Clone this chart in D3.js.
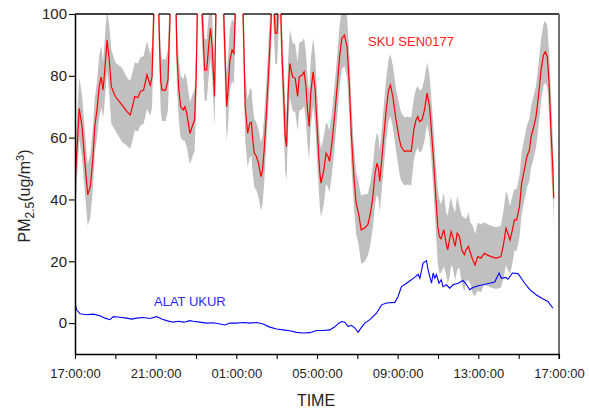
<!DOCTYPE html>
<html>
<head>
<meta charset="utf-8">
<script src="https://cdn.jsdelivr.net/npm/d3@7"></script>
<style>
  body { margin: 0; background: #fff; }
  svg { display: block; font-family: "Liberation Sans", Arial, sans-serif; }
</style>
</head>
<body>
<svg id="chart" width="589" height="409"></svg>
<script>
// Sensor (SKU SEN0177) PM2.5 readings: hours since 17:00, value, and uncertainty spread
const sensorHours = [
  0, 0.21, 0.35, 0.48, 0.63, 0.76, 0.88, 0.98, 1.09, 1.20, 1.30, 1.39, 1.45, 1.59, 1.70, 1.80,
  2.00, 2.33, 2.58, 2.74, 2.87, 2.96, 3.12, 3.24, 3.40, 3.57, 3.73, 3.82, 3.90, 3.96, 4.11, 4.20,
  4.25, 4.31, 4.49, 4.61, 4.71, 4.78, 4.96, 5.02, 5.05, 5.15, 5.24, 5.37, 5.45, 5.54, 5.70, 5.81,
  5.93, 6.01, 6.06, 6.12, 6.24, 6.31, 6.43, 6.53, 6.64, 6.72, 6.80, 6.92, 6.98, 7.06, 7.31, 7.38,
  7.52, 7.58, 7.68, 7.79, 7.88, 7.94, 8.00, 8.27, 8.34, 8.44, 8.56, 8.67, 8.75, 8.80, 8.89, 9.00,
  9.10, 9.22, 9.30, 9.38, 9.50, 9.63, 9.73, 9.79, 9.88, 9.93, 10.02, 10.07, 10.16, 10.21, 10.26, 10.37,
  10.42, 10.49, 10.57, 10.65, 10.79, 10.92, 11.04, 11.12, 11.28, 11.36, 11.45, 11.53, 11.61, 11.69, 11.81, 11.91,
  12.03, 12.14, 12.20, 12.34, 12.45, 12.54, 12.62, 12.74, 12.87, 13.00, 13.12, 13.23, 13.36, 13.49, 13.61, 13.69,
  13.83, 13.94, 14.06, 14.19, 14.35, 14.52, 14.65, 14.77, 14.88, 14.97, 15.05, 15.11, 15.21, 15.31, 15.43, 15.55,
  15.64, 15.76, 15.92, 16.09, 16.17, 16.34, 16.50, 16.67, 16.80, 16.91, 17.00, 17.08, 17.20, 17.33, 17.46, 17.58,
  17.66, 17.79, 17.90, 17.99, 18.07, 18.15, 18.29, 18.40, 18.48, 18.57, 18.65, 18.73, 18.85, 18.95, 19.06, 19.18,
  19.31, 19.39, 19.51, 19.61, 19.72, 19.84, 19.97, 20.13, 20.30, 20.46, 20.63, 20.88, 21.12, 21.26, 21.37, 21.46,
  21.57, 21.67, 21.79, 21.90, 22.04, 22.15, 22.28, 22.41, 22.53, 22.62, 22.75, 22.86, 22.94, 23.03, 23.11, 23.23,
  23.32, 23.42, 23.51, 23.60, 23.69, 23.74
];
const sensorPM = [
  44.7, 69.5, 63.6, 52.8, 41.5, 44.2, 52.8, 63.6, 69, 76.5, 79.7, 75.4, 79.7, 91.6, 85.1, 76.5,
  73.3, 70.6, 68.4, 67.3, 70.6, 73.3, 73, 74.9, 75.4, 80.3, 77, 79.7, 99, 112, 112, 88.4,
  78.7, 75.4, 75.4, 78.7, 99.7, 112, 112, 99, 87.3, 75.4, 70, 69, 70, 67.9, 61.4, 63.6,
  65.7, 79.7, 99, 112, 112, 99, 81.9, 81.9, 90.5, 95.4, 89.4, 73.3, 99, 112, 112, 99,
  70, 74.4, 85.1, 88.4, 87.3, 99, 112, 112, 99, 70, 61.4, 64.7, 65, 60.3, 55, 53.9,
  51.7, 47.4, 49.6, 56, 69, 85.1, 99, 112, 101, 93.8, 93.8, 101, 112, 99, 87.3, 70,
  60.3, 57.1, 74.4, 84, 79.7, 79.2, 73.3, 79.7, 80.3, 81.3, 76.5, 69, 63.6, 74.4, 81.3, 75.4,
  60.3, 48.5, 45.3, 49.6, 55, 54, 52.3, 58.2, 66.8, 76.5, 86.2, 92.1, 93.2, 89.4, 76.5, 62.5,
  47.4, 38.8, 35.6, 30.2, 30.7, 31.8, 35.6, 40.9, 48.5, 51.7, 50.1, 45.8, 52.8, 60.3, 69, 75.4,
  77, 73.3, 65.7, 59.3, 57.1, 55.5, 55.8, 55.5, 62.5, 65.7, 66.8, 65.2, 65.7, 69, 74.4, 70,
  63.6, 51.7, 39.9, 31.2, 28, 27.3, 30.2, 25.9, 23.7, 26.9, 29.6, 28, 24.8, 29.1, 28, 23.7,
  22.1, 23.7, 24.8, 22.6, 20.5, 18.8, 21.5, 21, 22.6, 22, 21.5, 21, 21.5, 25.9, 30.7, 29.2,
  26.9, 29.6, 33.4, 33.4, 37.7, 45.3, 49.6, 53.9, 56, 60.3, 63.6, 66.8, 71.1, 76.5, 81.9, 86.7,
  87.8, 86.2, 77.6, 62.5, 50.6, 40.4
];
const sensorSpread = [
  10, 10, 10, 10, 10, 10, 10, 9, 9, 10, 10, 9, 10, 10, 11, 12,
  11, 12, 11, 11, 11, 11, 11, 11, 11, 11, 10, 10, 10, 10, 10, 10,
  10, 10, 10, 10, 10, 10, 10, 10, 10, 10, 10, 10, 11, 11, 10, 10,
  10, 10, 10, 10, 10, 10, 10, 10, 10, 10, 10, 10, 10, 10, 10, 10,
  11, 11, 10, 10, 10, 10, 10, 10, 10, 11, 11, 11, 11, 11, 11, 11,
  11, 11, 11, 11, 10, 10, 10, 10, 10, 10, 10, 10, 10, 10, 10, 11,
  11, 11, 11, 11, 11, 11, 11, 11, 11, 11, 11, 11, 11, 11, 11, 11,
  11, 11, 11, 11, 10, 10, 10, 10, 10, 10, 10, 10, 10, 10, 10, 10,
  10, 10, 10, 11, 11, 10, 10, 10, 10, 10, 10, 10, 10, 10, 10, 10,
  10, 10, 10, 11, 11, 11, 11, 11, 10, 10, 10, 10, 10, 10, 10, 10,
  10, 10, 11, 12, 12, 11, 12, 10, 11, 12, 11, 10, 11, 12, 10, 11,
  12, 10, 11, 10, 11, 10, 11, 11, 10, 10, 10, 10, 10, 11, 12, 12,
  11, 11, 10, 10, 10, 10, 10, 10, 10, 10, 10, 10, 10, 10, 10, 10,
  10, 10, 10, 12, 10, 9
];

// Reference instrument (ALAT UKUR) PM2.5 readings
const refHours = [
  0, 0.08, 0.25, 0.58, 0.91, 1.24, 1.49, 1.73, 1.90, 2.23, 2.56, 2.81, 3.06, 3.38, 3.72, 4.05,
  4.30, 4.54, 4.87, 5.12, 5.40, 5.70, 5.86, 6.19, 6.53, 6.84, 7.19, 7.43, 7.68, 8.01, 8.34, 8.67,
  9.00, 9.33, 9.66, 10.00, 10.32, 10.65, 10.99, 11.31, 11.65, 11.98, 12.30, 12.64, 12.88, 13.05, 13.22, 13.38,
  13.54, 13.71, 13.88, 14.04, 14.16, 14.37, 14.62, 14.95, 15.20, 15.45, 15.86, 16.02, 16.19, 16.44, 16.68, 16.90,
  17.01, 17.10, 17.26, 17.43, 17.51, 17.59, 17.68, 17.76, 17.84, 17.92, 18.05, 18.16, 18.25, 18.42, 18.58, 18.75,
  19.00, 19.24, 19.41, 19.57, 19.74, 19.99, 20.23, 20.56, 20.81, 21.03, 21.14, 21.36, 21.47, 21.69, 21.97, 22.13,
  22.30, 22.55, 22.88, 23.21, 23.45, 23.70
];
const refPM = [
  6.7, 4.3, 3, 2.7, 2.9, 2.4, 1.6, 1.1, 2.1, 1.9, 1.6, 1.3, 1.6, 1.8, 1.5, 2.1,
  1.3, 0.8, 0.3, 0.6, 0.3, 0.8, 0.6, 0.3, 0, 0.1, -0.3, -0.6, 0, 0, 0.2, 0,
  0.2, -0.3, -1.3, -1.9, -2.2, -2.5, -3, -3.2, -3.1, -2.4, -2.4, -2.2, -1.2, -0.2, 0.5, 0.3,
  -1.1, -0.7, -1.6, -3, -1.8, 0, 1.1, 3.2, 5.9, 6.5, 6.7, 8.6, 11.8, 12.9, 14, 15.1,
  15.8, 14.5, 19.4, 20.2, 17.2, 15.1, 12.9, 16.2, 14.5, 15.7, 12.9, 14, 11.8, 12.4, 11.3, 12.4,
  12.9, 13.8, 12.5, 10.8, 11.5, 12.1, 12.4, 12.9, 13.3, 16.2, 14.5, 14.8, 14.2, 16.2, 16, 14.5,
  12.9, 10.8, 9.1, 7.8, 7, 4.8
];

const xTickHours = [0, 2, 4, 6, 8, 10, 12, 14, 16, 18, 20, 22, 24];
const xTickLabels = ["17:00:00", "21:00:00", "01:00:00", "05:00:00", "09:00:00", "13:00:00", "17:00:00"];
const yTicks = [0, 20, 40, 60, 80, 100];

const margin = { left: 75, right: 559, top: 14, bottom: 354 };
const svg = d3.select("#chart");

const x = d3.scaleLinear().domain([0, 24]).range([margin.left, margin.right]);
const y = d3.scaleLinear().domain([-10, 100]).range([margin.bottom, margin.top]);

const sensor = sensorHours.map((h, i) => ({ h, v: sensorPM[i], s: sensorSpread[i] }));
const reference = refHours.map((h, i) => ({ h, v: refPM[i] }));

svg.append("defs").append("clipPath").attr("id", "plot-clip")
  .append("rect")
  .attr("x", margin.left).attr("y", margin.top)
  .attr("width", margin.right - margin.left).attr("height", margin.bottom - margin.top);

const plot = svg.append("g").attr("clip-path", "url(#plot-clip)");

// uncertainty band around the sensor trace
plot.append("path")
  .datum(sensor)
  .attr("fill", "#c0c0c0")
  .attr("d", d3.area()
    .x(d => x(d.h))
    .y0(d => y(d.v - d.s))
    .y1(d => y(d.v + d.s)));

// sensor trace
plot.append("path")
  .datum(sensor)
  .attr("fill", "none")
  .attr("stroke", "#ff0000")
  .attr("stroke-width", 1.2)
  .attr("d", d3.line().x(d => x(d.h)).y(d => y(d.v)));

// reference instrument trace
plot.append("path")
  .datum(reference)
  .attr("fill", "none")
  .attr("stroke", "#0000ff")
  .attr("stroke-width", 1.1)
  .attr("d", d3.line().x(d => x(d.h)).y(d => y(d.v)));

// top frame: drawn only where the sensor trace stays at or below the axis maximum
const yMax = 100;
const topSegments = [];
let segStart = sensor[0].v <= yMax ? 0 : null;
for (let i = 1; i < sensor.length; i++) {
  const a = sensor[i - 1], b = sensor[i];
  if (a.v <= yMax && b.v > yMax) {
    topSegments.push([segStart, a.h + (yMax - a.v) / (b.v - a.v) * (b.h - a.h)]);
    segStart = null;
  } else if (a.v > yMax && b.v <= yMax) {
    segStart = a.h + (a.v - yMax) / (a.v - b.v) * (b.h - a.h);
  }
}
if (segStart !== null) topSegments.push([segStart, 24]);
svg.append("g").selectAll("line").data(topSegments).join("line")
  .attr("x1", d => x(d[0])).attr("x2", d => x(d[1]))
  .attr("y1", y(yMax)).attr("y2", y(yMax))
  .attr("stroke", "#000").attr("stroke-width", 1.3);

// right frame
svg.append("line")
  .attr("x1", margin.right).attr("x2", margin.right)
  .attr("y1", margin.top).attr("y2", margin.bottom + 5)
  .attr("stroke", "#707070").attr("stroke-width", 2);

// axes
const xAxis = d3.axisBottom(x)
  .tickValues(xTickHours)
  .tickSize(5)
  .tickSizeOuter(0)
  .tickPadding(10)
  .tickFormat(h => h % 4 === 0 ? xTickLabels[h / 4] : "");
const gx = svg.append("g").attr("transform", `translate(0,${margin.bottom})`).call(xAxis);
gx.select(".domain").attr("stroke", "#000").attr("stroke-width", 1.3);
gx.selectAll(".tick line").attr("stroke", "#000").attr("stroke-width", 1.1);
gx.selectAll(".tick text").attr("font-size", 13).attr("fill", "#222")
  .attr("font-family", "'Liberation Sans', Arial, sans-serif");

const yAxis = d3.axisLeft(y)
  .tickValues(yTicks)
  .tickSize(6)
  .tickSizeOuter(0)
  .tickPadding(2);
const gy = svg.append("g").attr("transform", `translate(${margin.left},0)`).call(yAxis);
gy.select(".domain").attr("stroke", "#000").attr("stroke-width", 1.5);
gy.selectAll(".tick line").attr("stroke", "#000").attr("stroke-width", 1.1);
gy.selectAll(".tick text").attr("font-size", 15).attr("fill", "#222")
  .attr("font-family", "'Liberation Sans', Arial, sans-serif");

// axis titles
svg.append("text")
  .attr("x", 316).attr("y", 406)
  .attr("text-anchor", "middle")
  .attr("font-size", 16).attr("fill", "#222")
  .text("TIME");

const yTitle = svg.append("text")
  .attr("transform", "translate(30,196) rotate(-90)")
  .attr("text-anchor", "middle")
  .attr("font-size", 16).attr("fill", "#222");
yTitle.append("tspan").text("PM");
yTitle.append("tspan").attr("font-size", 12).attr("dy", 4).text("2.5");
yTitle.append("tspan").attr("dy", -4).text("(ug/m");
yTitle.append("tspan").attr("font-size", 11).attr("dy", -6).text("3");
yTitle.append("tspan").attr("dy", 6).text(")");

// series labels
svg.append("text")
  .attr("x", 368).attr("y", 46)
  .attr("font-size", 13).attr("fill", "#ff2020")
  .text("SKU SEN0177");

svg.append("text")
  .attr("x", 154).attr("y", 306)
  .attr("font-size", 13).attr("fill", "#2a2aff")
  .text("ALAT UKUR");
</script>
</body>
</html>
